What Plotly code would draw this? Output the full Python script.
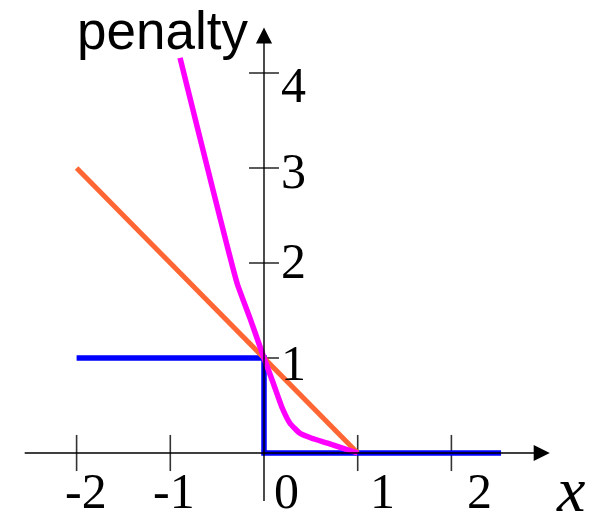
import plotly.graph_objects as go

# Penalty curves against the margin x
zero_one_x = [-2.0, 0.0, 0.0, 2.53]
zero_one_y = [1.0, 1.0, 0.0, 0.0]

hinge_x = [-2.0, 1.0]
hinge_y = [3.0, 0.0]

smooth_x = [-0.896, -0.288, -0.15, 0.0, 0.099, 0.189, 0.277, 0.384, 0.509, 0.686, 0.846, 1.0]
smooth_y = [4.16, 1.79, 1.42, 1.0, 0.734, 0.487, 0.313, 0.207, 0.155, 0.102, 0.049, 0.0]

x_ticks = [-2, -1, 0, 1, 2]
x_tick_labels = ["-2", "-1", "0", "1", "2"]
x_label_shift = [9, 4, 22, 25, 28]

y_ticks = [1, 2, 3, 4]
y_tick_labels = ["1", "2", "3", "4"]
y_label_drop = [5, -2, 3, 12]

W, H = 597, 515
X_RANGE = [-264 / 93.7, (W - 264) / 93.7]
Y_RANGE = [(453 - H) / 95.0, 453 / 95.0]

AXIS_COLOR = "#000000"
TICK_COLOR = "#333333"
SERIF = "Liberation Serif, Times New Roman, serif"
SANS = "Liberation Sans, Arial, sans-serif"

fig = go.Figure()

fig.add_trace(go.Scatter(x=zero_one_x, y=zero_one_y, mode="lines",
                         line=dict(color="#0000FF", width=5.5), hoverinfo="skip"))
fig.add_trace(go.Scatter(x=hinge_x, y=hinge_y, mode="lines",
                         line=dict(color="#FF6633", width=5), hoverinfo="skip"))
fig.add_trace(go.Scatter(x=smooth_x, y=smooth_y, mode="lines",
                         line=dict(color="#FF00FF", width=5.5, shape="spline", smoothing=0.4),
                         hoverinfo="skip"))

shapes = []
# tick marks crossing the axes
for t in x_ticks:
    if t == 0:
        continue
    shapes.append(dict(type="line", xref="x", yref="y", x0=t, x1=t, y0=-0.19, y1=0.19,
                       line=dict(color=TICK_COLOR, width=1.6), layer="below"))
for t in y_ticks:
    shapes.append(dict(type="line", xref="x", yref="y", x0=-0.16, x1=0.16, y0=t, y1=t,
                       line=dict(color=TICK_COLOR, width=1.6), layer="below"))

annotations = []
# axes drawn as arrows
annotations.append(dict(x=3.05, y=0, ax=-2.57, ay=0, xref="x", yref="y", axref="x", ayref="y",
                        showarrow=True, arrowhead=2, arrowsize=2.3, arrowwidth=1.4,
                        arrowcolor=AXIS_COLOR, text=""))
annotations.append(dict(x=0, y=4.48, ax=0, ay=-0.52, xref="x", yref="y", axref="x", ayref="y",
                        showarrow=True, arrowhead=2, arrowsize=2.3, arrowwidth=1.4,
                        arrowcolor=AXIS_COLOR, text=""))

for t, lab, sh in zip(x_ticks, x_tick_labels, x_label_shift):
    annotations.append(dict(x=t, y=-0.4, xref="x", yref="y", text=lab, showarrow=False,
                            xanchor="center", yanchor="middle", xshift=sh,
                            font=dict(family=SERIF, size=50, color="#000000")))
for t, lab, dr in zip(y_ticks, y_tick_labels, y_label_drop):
    annotations.append(dict(x=0, y=t, xref="x", yref="y", text=lab, showarrow=False,
                            xanchor="left", yanchor="middle", xshift=15, yshift=-dr,
                            font=dict(family=SERIF, size=50, color="#000000")))

annotations.append(dict(x=0, y=4.4, xref="x", yref="y", text="penalty", showarrow=False,
                        xanchor="right", yanchor="middle", xshift=-14, yshift=5,
                        font=dict(family=SANS, size=53, color="#000000")))
annotations.append(dict(x=3.266, y=-0.44, xref="x", yref="y", text="<i>x</i>", showarrow=False,
                        xanchor="center", yanchor="middle", yshift=5,
                        font=dict(family=SERIF, size=64, color="#000000")))

fig.update_layout(
    width=W, height=H,
    margin=dict(l=0, r=0, t=0, b=0),
    paper_bgcolor="white", plot_bgcolor="white",
    showlegend=False,
    xaxis=dict(range=X_RANGE, visible=False, fixedrange=True),
    yaxis=dict(range=Y_RANGE, visible=False, fixedrange=True),
    shapes=shapes,
    annotations=annotations,
)

fig.write_html("out.html")
